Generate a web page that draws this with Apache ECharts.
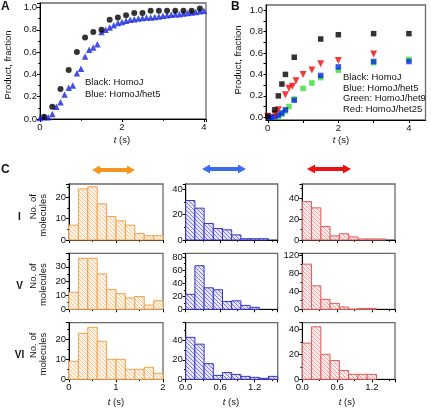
<!DOCTYPE html>
<html><head><meta charset="utf-8">
<script src="https://cdn.jsdelivr.net/npm/echarts@6/dist/echarts.min.js"></script>
<style>html,body{margin:0;padding:0;background:#fff}#c{width:431px;height:408px}</style>
</head><body><div id="c"></div>
<script>
// ---------- Panel A data ----------
const tA_black = [0.1,0.3,0.5,0.7,0.9,1.1,1.3,1.5,1.7,1.9,2.1,2.3,2.5,2.7,2.9,3.1,3.3,3.5,3.7,3.9];
const vA_black = [0.02,0.11,0.27,0.44,0.60,0.73,0.78,0.80,0.89,0.91,0.93,0.95,0.95,0.97,0.97,0.97,0.97,0.97,0.97,0.99];
const tA_blue = [0.0,0.1,0.2,0.3,0.4,0.5,0.6,0.7,0.8,0.9,1.0,1.1,1.2,1.3,1.4,1.5,1.6,1.7,1.8,1.9,2.0,2.1,2.2,2.3,2.4,2.5,2.6,2.7,2.8,2.9,3.0,3.1,3.2,3.3,3.4,3.5,3.6,3.7,3.8,3.9,4.0];
const vA_blue = [0.01,0.015,0.015,0.045,0.11,0.15,0.22,0.28,0.30,0.41,0.45,0.56,0.62,0.64,0.67,0.78,0.80,0.82,0.84,0.86,0.87,0.88,0.89,0.895,0.90,0.905,0.91,0.91,0.915,0.92,0.925,0.93,0.935,0.94,0.94,0.945,0.95,0.955,0.96,0.965,0.97];
// ---------- Panel B data ----------
const tB_black = [0,0.2,0.3,0.4,0.5,0.75,1.5,2,3,4];
const vB_black = [0.01,0.07,0.2,0.31,0.4,0.56,0.73,0.77,0.78,0.78];
const tB_red = [0,0.2,0.3,0.5,0.6,0.7,0.8,1.0,1.25,1.5,2,3];
const vB_red = [0.01,0.03,0.07,0.21,0.27,0.29,0.34,0.40,0.44,0.50,0.53,0.59];
const tB_green = [0.1,0.2,0.3,0.4,0.5,0.6,0.75,1.0,1.25,1.5,2,3,4];
const vB_green = [0,0.005,0.01,0.03,0.06,0.1,0.17,0.27,0.32,0.37,0.44,0.51,0.54];
const tB_blue = [0.05,0.1,0.2,0.3,0.4,0.5,0.75,1.5,2,3,4];
const vB_blue = [0,0,0.005,0.02,0.04,0.07,0.16,0.39,0.47,0.52,0.52];
const legendA = ['Black: HomoJ','Blue: HomoJ/het5'];
const legendB = ['Black: HomoJ','Blue: HomoJ/het5','Green: HomoJ/het9','Red: HomoJ/het25'];
// ---------- Panel C histograms ----------
const binCol1 = 0.2, binCol23 = 0.16;
const c1_I  = [7,24,25,17,11,9,7,3,2,2];
const c1_V  = [12,36,36,25,14,11,8,9,3,6];
const c1_VI = [9,23,26,19,10,10,5,5,6,3];
const c2_I  = [31,25,13,9,8,4,1,1,1];
const c2_V  = [23,67,33,30,12,13,6,3];
const c2_VI = [43,36,16,4,7,5,3,2,1,3];
const c3_I  = [37,31,13,4,6,3,1,1,1];
const c3_V  = [100,52,22,13,5,0,2,2];
const c3_VI = [29,42,20,15,7,4,4,4];
const rowNames = ['I','V','VI'];

const FF = '"Liberation Sans", Arial, sans-serif';
const FS = 9.5;

function hatch(bg, line) {
  const c = document.createElement('canvas'); c.width = 4; c.height = 4;
  const g = c.getContext('2d');
  g.fillStyle = bg; g.fillRect(0,0,4,4);
  g.strokeStyle = line; g.lineWidth = 1;
  g.beginPath();
  g.moveTo(-1,-1); g.lineTo(5,5);
  g.moveTo(-1,3); g.lineTo(1,5);
  g.moveTo(3,-1); g.lineTo(5,1);
  g.stroke();
  return c;
}
const colStyles = [
  {stroke:'#f0a04e', pat: hatch('#fef3e6','#f7c792')},
  {stroke:'#3434cc', pat: hatch('#e6e6f8','#7a7ae0')},
  {stroke:'#e05a5a', pat: hatch('#fdeaea','#f0a0a0')}
];

const grids = [], xAxes = [], yAxes = [], series = [];
const axisBase = () => ({
  type:'value',
  axisLine:{show:true, onZero:false, lineStyle:{color:'#000', width:1}},
  axisTick:{show:true, inside:false, length:3, lineStyle:{color:'#000', width:1}},
  minorTick:{show:true, splitNumber:2, length:1.8, lineStyle:{color:'#000', width:1}},
  splitLine:{show:false}, minorSplitLine:{show:false},
  axisLabel:{fontSize:FS, color:'#111', margin:3, fontFamily:FF}
});
function merge(a, b) {
  for (const k in b) {
    if (b[k] && typeof b[k] === 'object' && !Array.isArray(b[k]) && a[k] && typeof a[k] === 'object') merge(a[k], b[k]);
    else a[k] = b[k];
  }
  return a;
}
function addGrid(g, xa, ya) {
  grids.push(Object.assign({show:true, borderColor:'#6a6a6a', borderWidth:1.3, backgroundColor:'transparent'}, g));
  const i = grids.length - 1;
  xAxes.push(merge(merge(axisBase(), {gridIndex:i}), xa));
  yAxes.push(merge(merge(axisBase(), {gridIndex:i}), ya));
  return i;
}
const zip = (t, v) => t.map((x, i) => [x, v[i]]);

// Panel A
const gA = addGrid({left:40, top:3, width:166, height:116},
  {min:0, max:4.05, interval:2, axisLabel:{showMaxLabel:false}},
  {min:0, max:1.04, interval:0.2, axisLabel:{showMaxLabel:false, formatter:v => v.toFixed(1)}});
series.push({type:'scatter', xAxisIndex:gA, yAxisIndex:gA, symbol:'triangle', symbolSize:6.5,
  itemStyle:{color:'#1424e0'}, data: zip(tA_blue, vA_blue), z:3});
series.push({type:'scatter', xAxisIndex:gA, yAxisIndex:gA, symbol:'circle', symbolSize:6,
  itemStyle:{color:'#000'}, data: zip(tA_black, vA_black), z:4});

// Panel B
const gB = addGrid({left:266, top:5, width:159.5, height:115},
  {min:-0.05, max:4.47, axisLabel:{customValues:[0,2,4]}, axisTick:{customValues:[0,1,2,3,4]}, minorTick:{show:false}},
  {min:-0.025, max:1.047, axisLabel:{customValues:[0,0.2,0.4,0.6,0.8,1.0], formatter:v => v.toFixed(1)},
   axisTick:{customValues:[0,0.1,0.2,0.3,0.4,0.5,0.6,0.7,0.8,0.9,1.0], length:2.5}, minorTick:{show:false}});
series.push({type:'scatter', xAxisIndex:gB, yAxisIndex:gB, symbol:'rect', symbolSize:5.5,
  itemStyle:{color:'#33dd33'}, data: zip(tB_green, vB_green), z:3});
series.push({type:'scatter', xAxisIndex:gB, yAxisIndex:gB, symbol:'rect', symbolSize:5.5,
  itemStyle:{color:'#0a2be8'}, data: zip(tB_blue, vB_blue), z:4});
series.push({type:'scatter', xAxisIndex:gB, yAxisIndex:gB, symbol:'triangle', symbolRotate:180, symbolSize:7,
  itemStyle:{color:'#ee0a0a'}, data: zip(tB_red, vB_red), z:5});
series.push({type:'scatter', xAxisIndex:gB, yAxisIndex:gB, symbol:'rect', symbolSize:5.5,
  itemStyle:{color:'#000'}, data: zip(tB_black, vB_black), z:6});

// Panel C
const colLeft = [69, 185.7, 302.3], colWidth = [94, 92, 92.7];
const rowTop = [184, 253.3, 322.7], rowH = [56, 56, 56.6];
const hist = [[c1_I, c1_V, c1_VI],[c2_I, c2_V, c2_VI],[c3_I, c3_V, c3_VI]];
const yMax = [[26.3, 39.5, 28.3],[44, 86, 58],[54, 124, 45.3]];
const yInt = [[10,10,10],[20,20,20],[20,40,20]];
const bins = [binCol1, binCol23, binCol23];
const xMax = [2, 1.6, 1.6];
const xInt = [1, 0.6, 0.6];
for (let c = 0; c < 3; c++) {
  for (let r = 0; r < 3; r++) {
    const last = r === 2;
    const xa = {min:0, max:xMax[c], interval:xInt[c],
      axisLabel:{show:last, showMaxLabel: c === 0, formatter: c === 0 ? (v => String(v)) : (v => v.toFixed(1))},
      minorTick:{splitNumber: c === 0 ? 2 : 2}};
    const ya = {min:0, max:yMax[c][r], interval:yInt[c][r], axisLabel:{showMaxLabel:false}};
    const gi = addGrid({left:colLeft[c], top:rowTop[r], width:colWidth[c], height:rowH[r]}, xa, ya);
    const counts = hist[c][r];
    const bw = bins[c];
    const st = colStyles[c];
    series.push({
      type:'custom', xAxisIndex:gi, yAxisIndex:gi,
      data: counts.map((v, i) => [i * bw, (i + 1) * bw, v]),
      encode:{x:[0,1], y:2},
      renderItem: function(params, api) {
        const p0 = api.coord([api.value(0), api.value(2)]);
        const p1 = api.coord([api.value(1), 0]);
        return {type:'rect', shape:{x:p0[0], y:p0[1], width:p1[0]-p0[0], height:p1[1]-p0[1]},
          style:{fill:{image:st.pat, repeat:'repeat'}, stroke:st.stroke, lineWidth:1}};
      }
    });
  }
}

// Text / decorations
const graphic = [];
const txt = (text, x, y, opt) => graphic.push(Object.assign({type:'text', x, y, silent:true,
  style:Object.assign({text, font: FS + 'px ' + FF, fill:'#111', textAlign:'left', textVerticalAlign:'middle'}, (opt && opt.style) || {})},
  opt && opt.rotation ? {rotation: opt.rotation} : {}));
txt('A', 1, 7, {style:{font:'bold 12px ' + FF}});
txt('B', 231, 7, {style:{font:'bold 12px ' + FF}});
txt('C', 1, 170, {style:{font:'bold 12px ' + FF}});
txt('Product, fraction', 8, 65, {rotation:Math.PI/2, style:{textAlign:'center'}});
txt('Product, fraction', 238, 60, {rotation:Math.PI/2, style:{textAlign:'center'}});
legendA.forEach((s, i) => txt(s, 85, 82 + i * 12.3));
legendB.forEach((s, i) => txt(s, 343, 77.3 + i * 10.7));
const tTitle = (cx, y) => graphic.push({type:'text', x:cx, y:y, silent:true, style:{
  text:'{i|t} (s)', font: FS + 'px ' + FF, fill:'#111', textAlign:'center', textVerticalAlign:'middle',
  rich:{i:{fontStyle:'italic', fontSize:FS, fontFamily:FF}}}});
tTitle(122, 140); tTitle(341, 140);
tTitle(116, 402); tTitle(231, 402); tTitle(347, 402);
rowNames.forEach((n, r) => {
  const cy = rowTop[r] + 33;
  txt(n, 19.5, cy, {style:{font:'bold 10px ' + FF, textAlign:'center'}});
  txt('No. of', 33, rowTop[r] + 10, {rotation:Math.PI/2, style:{textAlign:'right'}});
  txt('molecules', 43.5, rowTop[r] + 10, {rotation:Math.PI/2, style:{textAlign:'right'}});
});
function arrow(x1, x2, y, color) {
  const sh = 2, hh = 4.5, hl = 8;
  graphic.push({type:'polygon', silent:true, shape:{points:[
    [x1, y], [x1 + hl, y - hh], [x1 + hl, y - sh], [x2 - hl, y - sh], [x2 - hl, y - hh], [x2, y],
    [x2 - hl, y + hh], [x2 - hl, y + sh], [x1 + hl, y + sh], [x1 + hl, y + hh]]},
    style:{fill:color}});
}
arrow(92, 135, 170, '#f7961e');
arrow(202, 246, 169, '#3a6cf0');
arrow(307, 351, 169, '#ee1111');

const chart = echarts.init(document.getElementById('c'), null, {renderer:'canvas'});
chart.setOption({
  animation:false,
  backgroundColor:'#fff',
  grid: grids, xAxis: xAxes, yAxis: yAxes, series: series, graphic: graphic
});
</script>
</body></html>
